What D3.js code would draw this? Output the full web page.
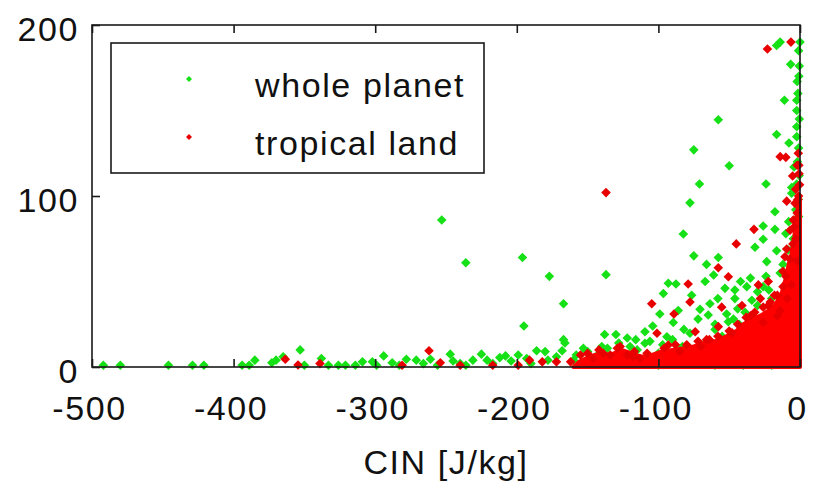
<!DOCTYPE html>
<html>
<head>
<meta charset="utf-8">
<script src="https://cdn.jsdelivr.net/npm/d3@7"></script>
<style>
  html, body { margin: 0; padding: 0; background: #fff; }
  svg text { font-family: "Liberation Sans", Arial, Helvetica, sans-serif; font-size: 34px; letter-spacing: 1.6px; fill: #111; }
</style>
</head>
<body>
<svg id="chart" width="814" height="490"></svg>
<script>
// CIN [J/kg] vs CAPE-like quantity, two samples
const xTicks = [-500, -400, -300, -200, -100, 0];
const yTicks = [0, 100, 200];
const xLabel = "CIN [J/kg]";
const seriesNames = ["whole planet", "tropical land"];

// whole planet: [CIN, value]
const wholePlanet = [
  [-492,1],[-480,1],[-446,1],[-429,1],[-421,1],[-394,1],[-389,1],[-385,4],[-373,2.5],[-370,4],
  [-365,6],[-353,10],[-350,1],[-338,5],[-333,1],[-326,1],[-321,1],[-314,1],[-309,3],[-302,3],
  [-299,1],[-294,6.5],[-288,2.5],[-283,1],[-278,4.5],[-271,4],[-266,2],[-261,4.5],[-256,1],
  [-247,7.5],[-245,3.5],[-240,2],[-236,1],[-231,4],[-225,7.5],[-221,4],[-217,2],[-212,5.5],
  [-208,6.5],[-204,3.5],[-199,7],[-193,5],[-190,2],[-186,9.5],[-180,9],[-178,4],[-172,6],
  [-168,9.5],[-166,14],[-160,4],[-153,11],[-148,6],[-145,2],[-140,12],[-132,4],[-126,3],
  [-112,2],[-100,1],[-85,2],[-60,1],[-40,1],[-20,1],
  [-158,7],[-150,9],[-143,7],[-136,11],[-128,14],[-120,12],[-116,16],[-106,15],[-97,13],[-90,16],
  [-253,86],[-236,61],[-196,64],[-177,53],[-167,37],[-195,24],[-167,16],[-137,54],[-138,19],
  [-130,19],[-122,17],
  [-14,190],[-16.5,188],[0,190],[-6.6,177],[-0.5,176],[-2,167],[-11,156],[-2.3,156],[-2.3,150],
  [-57.7,144.6],[-16.5,136],[-2.3,140.5],[-2.3,134.7],[-75,127],[-7.8,131],[-50,117.7],[-4.2,117],
  [-71,107],[-24,107],[-5.9,105],[-5.9,101.6],[-2.3,107],[-77.7,96],[-17.7,90.8],[-82.4,77.8],
  [-26,82.5],[-17.7,80.5],[-26,74.7],[-31.8,70],[-16.5,68],[-75,65],[-57.7,64],[-23.5,61.6],
  [-61,53.8],[-67,50],[-93,49],[-87.6,48.5],[-96.5,43],[-76.5,42],[-63.6,37],[-53,46],[-46,45],
  [-37.6,47],[-46,40],[-34,39],[-99,31],[-70.6,33.7],[-64.8,30.4],[-51.8,31],[-38.8,32],[-20,40],
  [-18.8,32],[-89.5,26],[-109.5,20.6],[-94,17.7],[-77.7,19.7],[-50.6,26.5],[-109.5,13.9],[-67,13.9],
  [-4.7,75],[-8.3,68.4],
  [-1,185],[-0.8,170],[-1.5,160],[-0.5,145],[-1,128],[-1.8,120],[-0.6,112],[-1.2,98],[-3,92],
  [-1,88],[-2.5,82],[-4,70],[-3.5,58],[-6,52],[-9,47],[-12,40],[-14,35],[-28,28],[-32,22],
  [-40,20],[-43,25],[-55,18],[-60,22],[-83,12],[-100,8],[-115,10],[-120,6],
  [-30,44],[-26,47],[-42,50],[-35,52],[-24,53],[-22,45],[-14,55],[-12,60],[-10,78],[-8,85],
  [-30,36],[-44,34],[-47,28],[-60,25],[-72,28],[-82,22],[-86,33],[-104,24],[-58,40],[-66,60]
];

// tropical land: [CIN, value]
const tropicalLand = [
  [-363.5,4.5],[-354.5,1.2],[-339,2],[-281,1],[-262,9.5],[-254,2.5],[-240,1],[-217,1],[-199,1],
  [-191,4],[-182,3],[-172,3],[-162,3],[-155,7],[-146,5],[-139,8],[-134,7],[-129,11],[-122,7],
  [-118,6],
  [-137,102],[-23,186],[-6.4,190],[-14,123],[-10,122.6],[-1.2,125],[-5.2,111.7],[-0.7,113],
  [-0.3,106.6],[-9.4,97],[-3.5,95.7],[-32.5,80.5],[-45,72],[-9.4,69],[-57.7,58],[-50.6,52.8],
  [-79,48.5],[-104.7,37],[-77.7,38],[-29.4,48],[-22.4,50],[-41,36],[-89,31],[-55.3,35],[-22.4,36],
  [-101,19.7],[-74,20.6],[-57.7,23.6],[-93,12.9],[-4.7,86],[-10.6,64.5],[-2,118],[-1,100],[-7,80],
  [-3,75],[-12,56],[-18,42],[-28,40],[-35,30],[-16,30],[-26,26],[-48,20],[-64,16],[-85,9],
  [-70,12],[-108,8],[-113,5],
  [-150,8],[-142,10],[-127,12],[-117,9],[-96,11],[-88,13],[-80,13],[-72,15],[-66,16],[-58,18],
  [-50,21],[-44,25],[-38,29],[-32,32],[-26,35],[-21,38],[-16,42],[-12,47],[-10,53],[-7,63],
  [-5,72],[-4,82],[-2,90],[-1.5,98],[-3,104],[-0.8,118],[-2,62],[-6,48],[-9,40],[-14,33]
];

// upper edge of the fully overplotted tropical-land mass near CIN = 0
const tropicalCore = [
  [-160,0],[-156,3],[-149,6],[-141,8],[-134,7],[-126,10],[-119,8],[-112,6],[-105,7],[-98,9],
  [-90,10],[-82,11],[-75,12],[-68,14],[-60,15],[-52,18],[-45,21],[-40,25],[-34,28],[-28,30],
  [-22,33],[-17,37],[-13,43],[-10,52],[-8,60],[-6,66],[-4,76],[-3,84],[-2,90],[-1,97],[0,100]
];

const colors = { green: "#16e016", red: "#e80000", redCore: "#ff0000", axis: "#1a1a1a" };

const svg = d3.select("#chart");
const plot = { left: 92, right: 800, top: 25, bottom: 367 };

const x = d3.scaleLinear().domain([-500, 0]).range([plot.left, plot.right]);
const y = d3.scaleLinear().domain([0, 200]).range([plot.bottom, plot.top]);

const clipId = "plot-clip";
svg.append("clipPath").attr("id", clipId)
  .append("rect")
  .attr("x", plot.left).attr("y", plot.top - 6)
  .attr("width", plot.right - plot.left + 5).attr("height", plot.bottom - plot.top + 10);

const diamond = (r) => `M0,${-r}L${r},0L0,${r}L${-r},0Z`;

const marks = svg.append("g").attr("clip-path", `url(#${clipId})`);

marks.append("g").selectAll("path").data(wholePlanet).join("path")
  .attr("d", diamond(4.8))
  .attr("transform", d => `translate(${x(d[0])},${y(d[1])})`)
  .attr("fill", colors.green);

marks.append("path")
  .datum(tropicalCore)
  .attr("d", d3.area().x(d => x(d[0])).y0(y(0)).y1(d => y(d[1])).curve(d3.curveLinear))
  .attr("fill", colors.redCore)
  .attr("stroke", colors.redCore)
  .attr("stroke-width", 4)
  .attr("stroke-linejoin", "round");

marks.append("g").selectAll("path").data(tropicalLand).join("path")
  .attr("d", diamond(4.8))
  .attr("transform", d => `translate(${x(d[0])},${y(d[1])})`)
  .attr("fill", colors.red);

// frame
svg.append("rect")
  .attr("x", plot.left).attr("y", plot.top)
  .attr("width", plot.right - plot.left).attr("height", plot.bottom - plot.top)
  .attr("fill", "none").attr("stroke", colors.axis).attr("stroke-width", 1.6);

// axes: inward ticks on all sides, labels on bottom and left
const tickLen = 8;
const plain = d => String(d);
const xAxisBottom = d3.axisBottom(x).tickValues(xTicks).tickSize(-tickLen).tickFormat(plain).tickPadding(16);
const xAxisTop = d3.axisTop(x).tickValues(xTicks).tickSize(-tickLen).tickFormat("");
const yAxisLeft = d3.axisLeft(y).tickValues(yTicks).tickSize(-tickLen).tickFormat(plain).tickPadding(13);

function styleAxis(g) {
  g.select(".domain").remove();
  g.selectAll(".tick line").attr("stroke", colors.axis).attr("stroke-width", 1.6);
  g.selectAll(".tick text").attr("font-size", null).attr("font-family", null).attr("fill", "#111");
}

svg.append("g").attr("transform", `translate(0,${plot.bottom})`).call(xAxisBottom).call(styleAxis)
  .selectAll(".tick text").attr("dy", "1.1em").attr("dx", "-3px");
svg.append("g").attr("transform", `translate(0,${plot.top})`).call(xAxisTop).call(styleAxis);
svg.append("g").attr("transform", `translate(${plot.left},0)`).call(yAxisLeft).call(styleAxis)
  .selectAll(".tick text").attr("dy", "0.46em");

svg.append("text")
  .attr("x", (plot.left + plot.right) / 2)
  .attr("y", 474)
  .attr("text-anchor", "middle")
  .text(xLabel);

// legend
const legend = svg.append("g");
legend.append("rect")
  .attr("x", 111).attr("y", 43).attr("width", 373).attr("height", 130)
  .attr("fill", "#fff").attr("stroke", colors.axis).attr("stroke-width", 1.6);
const legendColors = [colors.green, colors.red];
seriesNames.forEach((name, i) => {
  const cy = 79 + i * 58;
  legend.append("path").attr("d", diamond(3)).attr("transform", `translate(189,${cy})`).attr("fill", legendColors[i]);
  legend.append("text").attr("x", 255).attr("y", cy + 18).text(name);
});
</script>
</body>
</html>
